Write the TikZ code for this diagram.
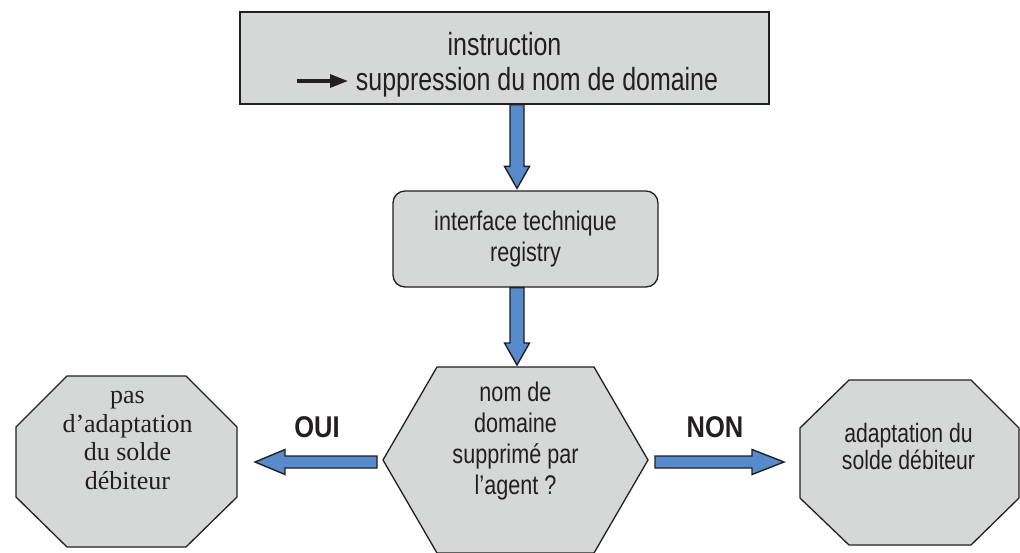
\documentclass[tikz,border=0pt]{standalone}
\usepackage{fontspec}
\setmainfont{Liberation Sans}
\newfontfamily\nsans{Liberation Sans}[FakeStretch=0.8]
\newfontfamily\tsans{Liberation Sans}[FakeStretch=0.78]
\newfontfamily\lsans{Liberation Sans}[FakeStretch=0.85]
\newfontfamily\tser{Liberation Serif}
\usetikzlibrary{arrows.meta,calc}
\pgfdeclarelayer{bg}
\pgfsetlayers{bg,main}
\definecolor{boxgray}{RGB}{214,215,215}
\definecolor{arrblue}{RGB}{88,139,204}
\definecolor{edgecol}{RGB}{35,31,32}
\newcommand\vblock[2]{%
  \draw[blockarrow] ([xshift=-7pt]#1) -- ([xshift=-7pt,yshift=22pt]#2) -- ([xshift=-12.5pt,yshift=22pt]#2) -- (#2) -- ([xshift=12.5pt,yshift=22pt]#2) -- ([xshift=7pt,yshift=22pt]#2) -- ([xshift=7pt]#1) -- cycle;}
\newcommand\hblock[3]{%
  \draw[blockarrow] ([yshift=6pt]#1) -- ([xshift=#3,yshift=6pt]#2) -- ([xshift=#3,yshift=12.5pt]#2) -- (#2) -- ([xshift=#3,yshift=-12.5pt]#2) -- ([xshift=#3,yshift=-6pt]#2) -- ([yshift=-6pt]#1) -- cycle;}
\begin{document}
\begin{tikzpicture}[x=1pt,y=-1pt,
  boxstyle/.style={draw=edgecol, line width=1.3pt, fill=boxgray, inner sep=0pt, align=center, text=edgecol},
  shapebox/.style={draw=none, inner sep=0pt, outer sep=0pt},
  shapefill/.style={draw=edgecol, line width=1.3pt, fill=boxgray, line join=miter},
  blockarrow/.style={draw=edgecol, line width=1.4pt, fill=arrblue, line join=miter},
  txt/.style={align=center, inner sep=0pt, text=edgecol},
  lab/.style={inner sep=0pt, text=edgecol, font=\lsans\bfseries\fontsize{30}{34}\selectfont}]
\useasboundingbox (0,0) rectangle (1020,552);
% nodes
\node[boxstyle, minimum width=529pt, minimum height=92pt, font=\tsans\fontsize{32}{35}\selectfont] (top) at (504.5,58)
  {\rule{0pt}{37pt}instruction\\\hspace*{65pt}suppression du nom de domaine};
\node[boxstyle, rounded corners=12pt, minimum width=265pt, minimum height=96pt, font=\nsans\fontsize{27}{31}\selectfont] (reg) at (525.5,239)
  {interface technique\\registry};
\node[shapebox, minimum width=265pt, minimum height=186pt] (dec) at (515.5,460) {};
\node[shapebox, minimum width=221pt, minimum height=171pt] (oL) at (126.5,461.5) {};
\node[shapebox, minimum width=219pt, minimum height=165pt] (oR) at (909.5,462.5) {};
\begin{pgfonlayer}{bg}
\draw[shapefill] (dec.west) -- ([xshift=54pt]dec.north west) -- ([xshift=-54pt]dec.north east) -- (dec.east) -- ([xshift=-54pt]dec.south east) -- ([xshift=54pt]dec.south west) -- cycle;
\draw[shapefill] ([xshift=51pt]oL.north west) -- ([xshift=-51pt]oL.north east) -- ([yshift=-51pt]oL.north east) -- ([yshift=50pt]oL.south east) -- ([xshift=-51pt]oL.south east) -- ([xshift=51pt]oL.south west) -- ([yshift=50pt]oL.south west) -- ([yshift=-51pt]oL.north west) -- cycle;
\draw[shapefill] ([xshift=49pt]oR.north west) -- ([xshift=-48pt]oR.north east) -- ([yshift=-48pt]oR.north east) -- ([yshift=47pt]oR.south east) -- ([xshift=-48pt]oR.south east) -- ([xshift=49pt]oR.south west) -- ([yshift=47pt]oR.south west) -- ([yshift=-48pt]oR.north west) -- cycle;
\end{pgfonlayer}
\node[txt, font=\nsans\fontsize{27}{31}\selectfont] (tdec) at ($(dec.center)+(0,-19)$) {nom de\\domaine\\supprimé par\\l’agent ?};
\node[txt, font=\tser\fontsize{26}{28.6}\selectfont] (tL) at ($(oL.center)+(1,-21)$) {pas\\d’adaptation\\du solde\\débiteur};
\node[txt, font=\nsans\fontsize{26.5}{27}\selectfont] (tR) at ($(oR.center)+(-1,-16)$) {adaptation du\\solde débiteur};
\node[lab] (oui) at (317,427) {OUI};
\node[lab] (non) at (715,427) {NON};
% small arrow in top box
\coordinate (ta1) at (297,81);
\coordinate (ta2) at (348,81);
\draw[edgecol, line width=3.2pt, -{Triangle[length=18pt,width=13pt]}] (ta1) -- (ta2);
% block arrows
\coordinate (ax) at (517,0);
\coordinate (a1s) at (top.south -| ax);
\coordinate (a1e) at ($(reg.north -| ax)+(0,-2)$);
\coordinate (a2s) at (reg.south -| ax);
\coordinate (a2e) at ($(dec.north -| ax)+(0,-2)$);
\vblock{a1s}{a1e}
\vblock{a2s}{a2e}
\coordinate (ouis) at ($(dec.west)+(-6,2)$);
\coordinate (ouie) at ($(dec.west -| oL.east)+(18,2)$);
\coordinate (nons) at ($(dec.east)+(7,2)$);
\coordinate (none) at ($(dec.east -| oR.west)+(-16,2)$);
\hblock{ouis}{ouie}{30pt}
\hblock{nons}{none}{-32pt}
\end{tikzpicture}
\end{document}
